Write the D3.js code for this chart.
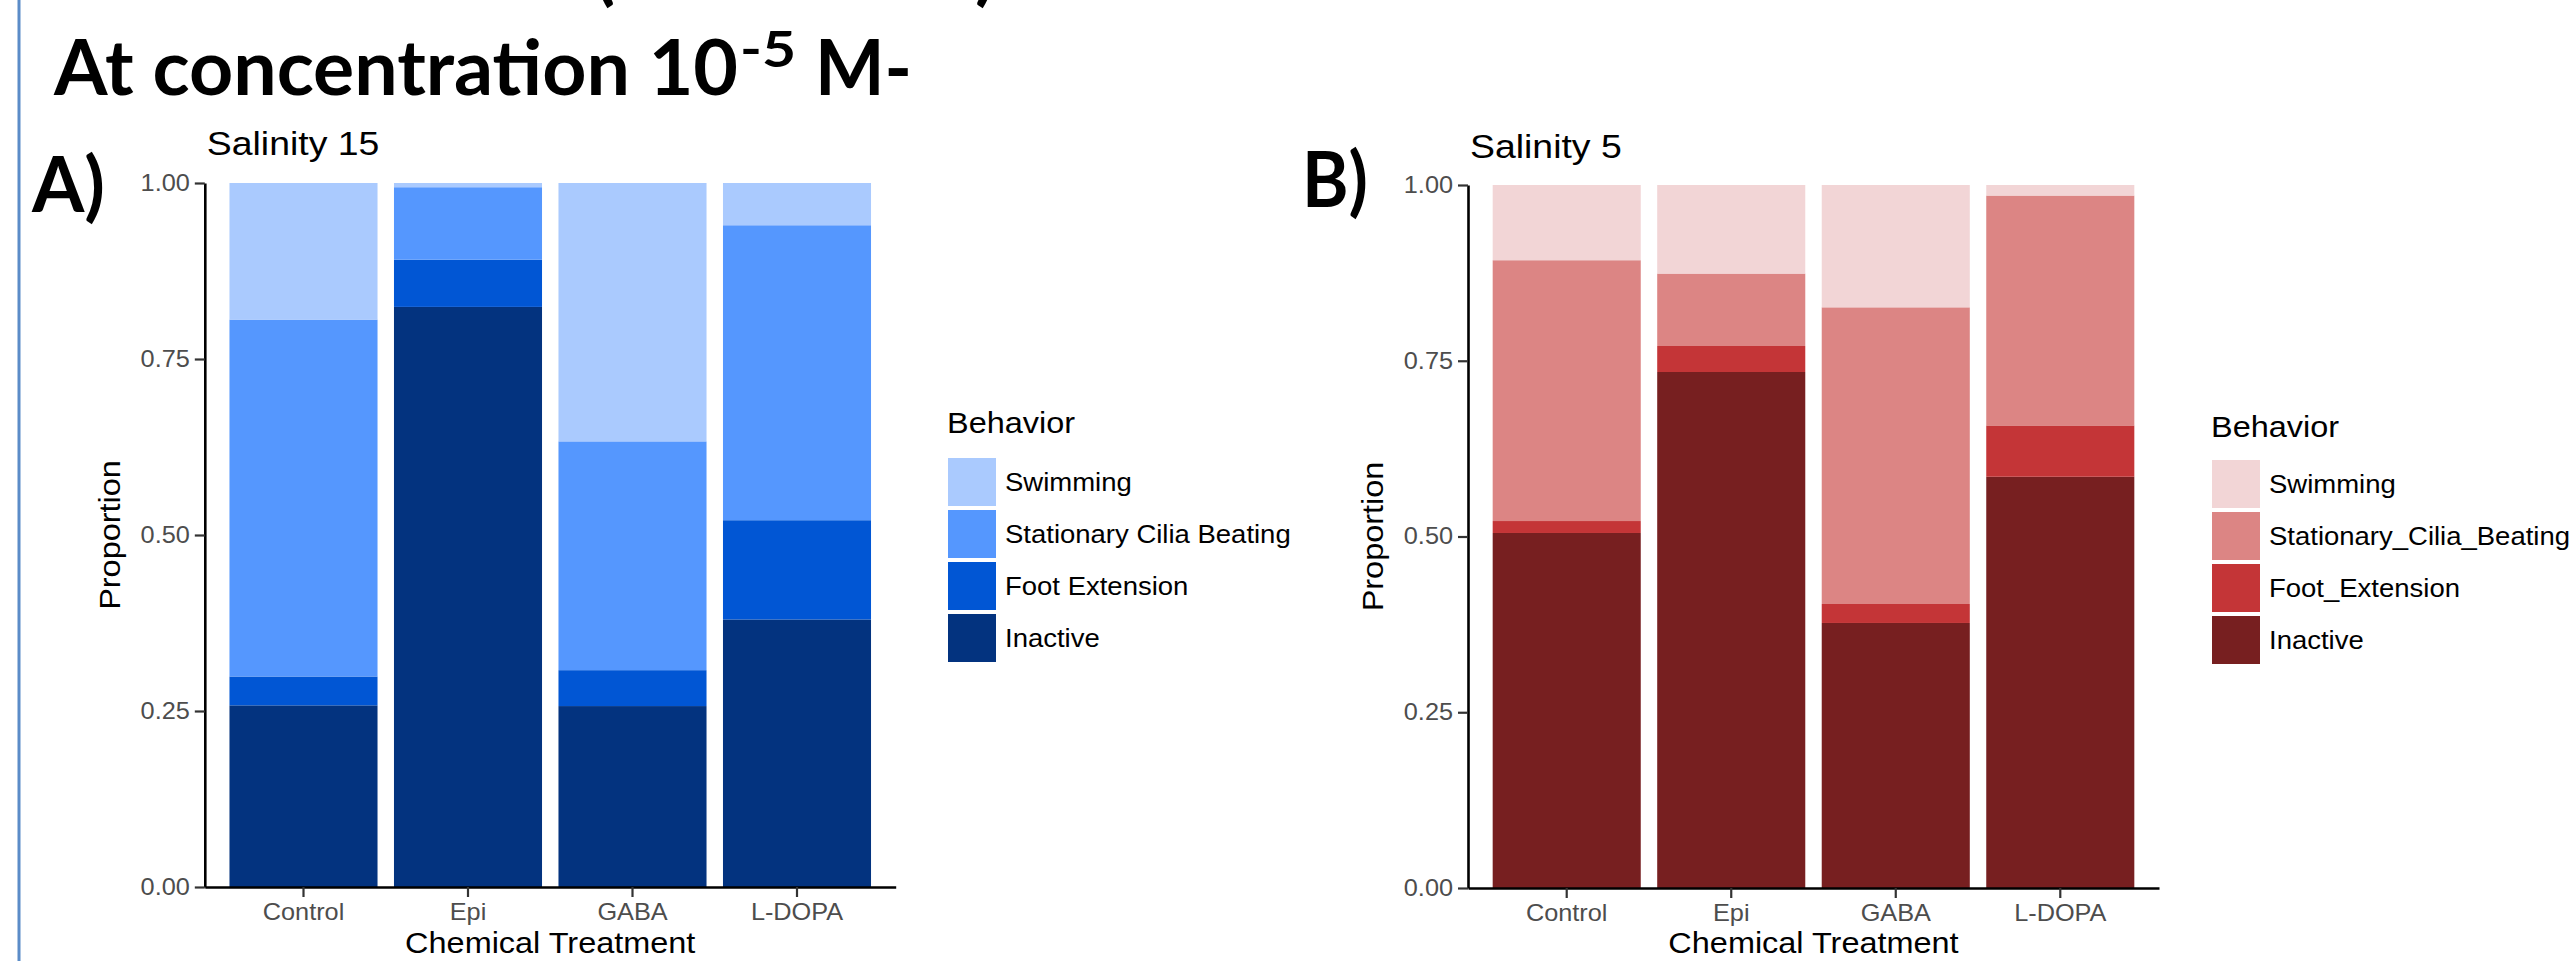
<!DOCTYPE html>
<html>
<head>
<meta charset="utf-8">
<script src="https://cdn.jsdelivr.net/npm/d3@7"></script>
<style>
  html, body { margin: 0; padding: 0; background: #ffffff; }
  svg { display: block; }
</style>
</head>
<body>
<svg id="chart" width="2574" height="961"></svg>
<script>
// ---------------- data ----------------
const categories = ["Control", "Epi", "GABA", "L-DOPA"];
const stackKeys = ["Inactive", "Foot", "Cilia", "Swimming"];   // bottom -> top
const yTickValues = [0, 0.25, 0.5, 0.75, 1];

// Salinity 15 (panel A)
const inactive15 = [0.258, 0.824, 0.257, 0.380];
const foot15     = [0.041, 0.067, 0.051, 0.141];
const cilia15    = [0.507, 0.103, 0.325, 0.419];
const swim15     = [0.194, 0.006, 0.367, 0.060];

// Salinity 5 (panel B)
const inactive5 = [0.505, 0.734, 0.377, 0.585];
const foot5     = [0.017, 0.037, 0.027, 0.073];
const cilia5    = [0.371, 0.103, 0.422, 0.327];
const swim5     = [0.107, 0.126, 0.174, 0.015];

const legendLabels15 = ["Swimming", "Stationary Cilia Beating", "Foot Extension", "Inactive"];
const legendLabels5  = ["Swimming", "Stationary_Cilia_Beating", "Foot_Extension", "Inactive"];

const colors15 = { Swimming: "#aacafe", Cilia: "#5597fe", Foot: "#0156d4", Inactive: "#03337f" };
const colors5  = { Swimming: "#f2d5d6", Cilia: "#dc8584", Foot: "#c43537", Inactive: "#771f20" };

// ---------------- drawing ----------------
const svg = d3.select("#chart");
const SX = 1.1;           // horizontal stretch of the pasted chart image
const chartFont = "'Liberation Sans', Arial, Helvetica, sans-serif";
const slideFont = "Lato, 'Open Sans', sans-serif";

// slide border line
svg.append("line")
  .attr("x1", 19).attr("x2", 19).attr("y1", 0).attr("y2", 961)
  .attr("stroke", "#5b8cc8").attr("stroke-width", 3);

// cut-off parentheses of the previous slide line (only their lower ends show)
svg.append("text").attr("x", 594).attr("y", -4)
  .attr("font-family", slideFont).attr("font-weight", 700).attr("font-size", 77)
  .attr("fill", "#000").text("(");
svg.append("text").attr("x", 975).attr("y", -4)
  .attr("font-family", slideFont).attr("font-weight", 700).attr("font-size", 77)
  .attr("fill", "#000").text(")");

// slide title
const titleG = svg.append("g");
titleG.append("text").attr("x", 54).attr("y", 95)
  .attr("font-family", slideFont).attr("font-weight", 700).attr("font-size", 77)
  .attr("textLength", 684).attr("lengthAdjust", "spacingAndGlyphs")
  .attr("fill", "#000").text("At concentration 10");
titleG.append("text").attr("x", 740).attr("y", 67)
  .attr("font-family", slideFont).attr("font-weight", 700).attr("font-size", 49)
  .attr("textLength", 56).attr("lengthAdjust", "spacingAndGlyphs")
  .attr("fill", "#000").text("-5");
titleG.append("text").attr("x", 815).attr("y", 95)
  .attr("font-family", slideFont).attr("font-weight", 700).attr("font-size", 77)
  .attr("textLength", 97).attr("lengthAdjust", "spacingAndGlyphs")
  .attr("fill", "#000").text("M-");

function stretchedText(g, x, y, str, size, anchor, fill, rotate) {
  const t = g.append("text")
    .attr("transform", `translate(${x},${y})` + (rotate ? ` rotate(${rotate})` : "") + ` scale(${SX},1)`)
    .attr("font-family", chartFont).attr("font-size", size)
    .attr("text-anchor", anchor || "start")
    .attr("fill", fill || "#000")
    .text(str);
  return t;
}

function drawPanel(cfg) {
  const g = svg.append("g");
  const rows = categories.map((c, i) => ({
    cat: c,
    Inactive: cfg.inactive[i], Foot: cfg.foot[i], Cilia: cfg.cilia[i], Swimming: cfg.swim[i]
  }));
  const series = d3.stack().keys(stackKeys)(rows);

  const x = d3.scaleBand().domain(categories)
    .range([cfg.left, cfg.right]).paddingInner(0.1).paddingOuter(0.15);
  const y = d3.scaleLinear().domain([0, 1]).range([cfg.bottom, cfg.top]);

  // bars
  g.selectAll("g.layer").data(series).join("g")
    .attr("class", "layer")
    .attr("fill", d => cfg.colors[d.key])
    .selectAll("rect").data(d => d).join("rect")
    .attr("x", d => x(d.data.cat))
    .attr("width", x.bandwidth())
    .attr("y", d => y(d[1]))
    .attr("height", d => Math.max(0, y(d[0]) - y(d[1])));

  // y axis
  const ya = g.append("g").attr("transform", `translate(${cfg.left},0)`)
    .call(d3.axisLeft(y).tickValues(yTickValues).tickFormat(d3.format(".2f"))
      .tickSize(10).tickSizeOuter(0).tickPadding(5));
  ya.select(".domain").attr("stroke", "#000").attr("stroke-width", 2.6);
  ya.selectAll(".tick line").attr("stroke", "#333").attr("stroke-width", 2.2);
  ya.selectAll(".tick text")
    .attr("font-family", chartFont).attr("font-size", 23).attr("fill", "#4d4d4d")
    .attr("x", -15 / SX).attr("transform", `scale(${SX},1)`);

  // x axis
  const xa = g.append("g").attr("transform", `translate(0,${cfg.bottom})`)
    .call(d3.axisBottom(x).tickSize(10).tickSizeOuter(0).tickPadding(7));
  xa.select(".domain").attr("stroke", "#000").attr("stroke-width", 2.6);
  xa.selectAll(".tick line").attr("stroke", "#333").attr("stroke-width", 2.2);
  xa.selectAll(".tick text")
    .attr("font-family", chartFont).attr("font-size", 23).attr("fill", "#4d4d4d")
    .attr("transform", `scale(${SX},1)`);

  // axis titles
  stretchedText(g, (cfg.left + cfg.right) / 2, 953, "Chemical Treatment", 29.5, "middle");
  stretchedText(g, cfg.left - 85, (cfg.top + cfg.bottom) / 2, "Proportion", 29.5, "middle", "#000", -90);

  // panel title
  stretchedText(g, cfg.left + 2, cfg.titleY, cfg.title, 34, "start");

  // panel letter
  g.append("text").attr("x", cfg.letterX).attr("y", cfg.letterY)
    .attr("font-family", slideFont).attr("font-weight", 700).attr("font-size", 77)
    .attr("textLength", cfg.letterW).attr("lengthAdjust", "spacingAndGlyphs")
    .attr("fill", "#000").text(cfg.letter);

  // legend
  const lg = g.append("g");
  stretchedText(lg, cfg.legendX, cfg.legendTitleY, "Behavior", 29.5, "start");
  const legendKeys = stackKeys.slice().reverse();
  legendKeys.forEach((k, i) => {
    const ky = cfg.keyTop + i * 52;
    lg.append("rect").attr("x", cfg.legendX + 1).attr("y", ky)
      .attr("width", 48).attr("height", 48).attr("fill", cfg.colors[k]);
    stretchedText(lg, cfg.legendX + 58, ky + 24 + 9, cfg.labels[i], 25, "start");
  });
}

drawPanel({
  left: 204.8, right: 895.7, top: 183, bottom: 887,
  inactive: inactive15, foot: foot15, cilia: cilia15, swim: swim15,
  colors: colors15, labels: legendLabels15,
  title: "Salinity 15", titleY: 155,
  letter: "A)", letterX: 32, letterY: 212, letterW: 73,
  legendX: 947, legendTitleY: 433, keyTop: 458
});

drawPanel({
  left: 1468, right: 2159, top: 185, bottom: 888,
  inactive: inactive5, foot: foot5, cilia: cilia5, swim: swim5,
  colors: colors5, labels: legendLabels5,
  title: "Salinity 5", titleY: 158,
  letter: "B)", letterX: 1302, letterY: 207, letterW: 66,
  legendX: 2211, legendTitleY: 437, keyTop: 460
});
</script>
</body>
</html>
